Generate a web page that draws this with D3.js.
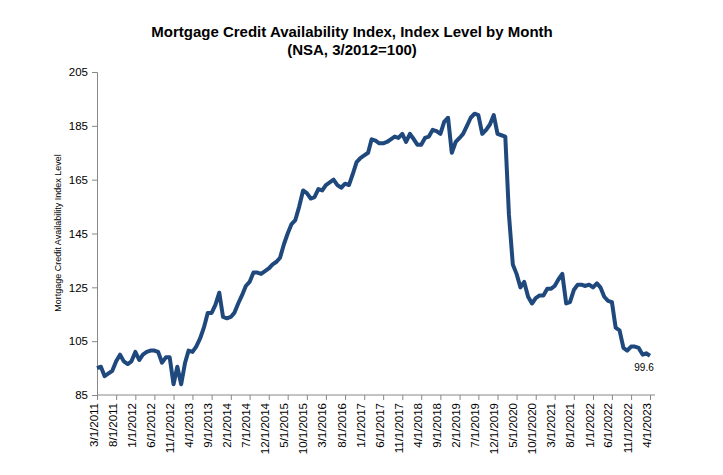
<!DOCTYPE html>
<html><head><meta charset="utf-8">
<script src="https://cdn.jsdelivr.net/npm/d3@7"></script>
<style>body{margin:0;background:#fff}text{font-family:"Liberation Sans",Arial,sans-serif}</style>
</head><body>
<script>
// monthly index values, 3/2011 .. 4/2023
var values = [95,95.5,92,93,94,97.5,100,97.5,96.5,97.5,
  101,98,100,101,101.5,101.5,101,97,99,99,89,95.5,
  89,97,101.5,101,103,106,110,115.5,115.5,118.5,123,114,
  113.5,114,115.5,119,122,125.5,127,130.5,130.5,130,131,132,
  133.5,134.5,136,141,145,148.5,150,155,161,160,158,158.5,
  161.5,161,163,164,165,163,162,163.5,163,167,171.5,173,
  174,175,180,179.5,178.5,178.5,179,180,181,180.5,182,179,
  182,180,178,178,180.5,181,183.5,183,182,186.5,188,175,
  179,180.5,182,185,188,189.5,189,182,183.5,185.5,189,182,
  181.5,181,152,133.5,130,125,127,121.5,119,121,122,122,
  124.5,124.5,125.5,128,130,119,119.5,124,126,126,125.5,126,
  125,126.5,125,121.5,120,119.5,110,109,102.5,101.5,103,103,
  102.5,100,100.5,99.6];
var yTicks = [85,105,125,145,165,185,205];
var months = values.map(function(v,i){ return new Date(2011, 2 + i, 1); });
var data = months.map(function(d,i){ return {date:d, value:values[i]}; });
var tickDates = months.filter(function(d,i){ return i % 5 === 0; });

var svg = d3.select("body").append("svg").attr("width",723).attr("height",475);

svg.append("text").attr("x",352).attr("y",37).attr("text-anchor","middle")
   .attr("font-size",15).attr("font-weight","bold").text("Mortgage Credit Availability Index, Index Level by Month");
svg.append("text").attr("x",352).attr("y",55).attr("text-anchor","middle")
   .attr("font-size",15).attr("font-weight","bold").text("(NSA, 3/2012=100)");

var x = d3.scaleTime().domain([months[0], months[months.length-1]]).range([97, 650]);
var y = d3.scaleLinear().domain([85,205]).range([395,72]);

var yAxis = svg.append("g").attr("transform","translate(97,0)")
   .call(d3.axisLeft(y).tickValues(yTicks).tickSize(5).tickPadding(4));
yAxis.selectAll("text").attr("font-size",11.5).attr("fill","#000");
yAxis.selectAll("line,path").attr("stroke","#888");

var xAxis = svg.append("g").attr("transform","translate(0,395)")
   .call(d3.axisBottom(x).tickValues(tickDates).tickSize(5)
     .tickFormat(function(d){ return (d.getMonth()+1)+"/1/"+d.getFullYear(); }));
xAxis.select(".domain").attr("d","M97,0H655").attr("stroke","#888");
xAxis.selectAll("line").attr("stroke","#888");
xAxis.selectAll("text").attr("font-size",11.5).attr("fill","#000")
   .attr("text-anchor","end").attr("transform","rotate(-90)")
   .attr("x",-8).attr("y",-4).attr("dy","0.35em");

svg.append("text").attr("transform","translate(61,233) rotate(-90)")
   .attr("text-anchor","middle").attr("font-size",9).text("Mortgage Credit Availability Index Level");

svg.append("path").datum(data)
   .attr("fill","none").attr("stroke","#1f497d").attr("stroke-width",4).attr("stroke-linejoin","round")
   .attr("d", d3.line().x(function(d){ return x(d.date); }).y(function(d){ return y(d.value); }));

var last = data[data.length-1];
svg.append("text").attr("x",x(last.date)-6).attr("y",y(last.value)+15)
   .attr("text-anchor","middle").attr("font-size",10).text(last.value);
</script>
</body></html>
